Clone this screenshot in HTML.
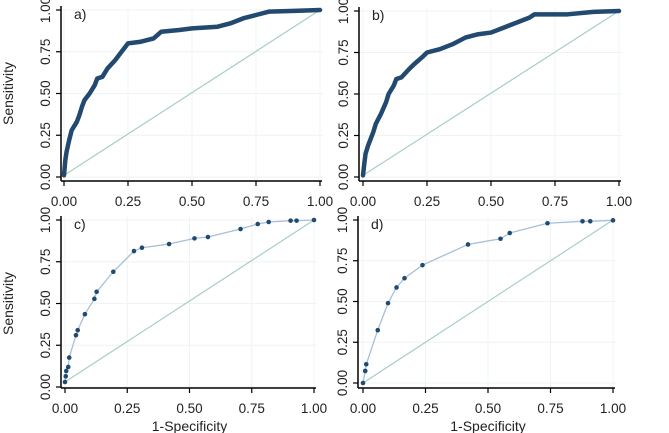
<!DOCTYPE html>
<html><head><meta charset="utf-8"><style>
body{margin:0;background:#fff;}
svg{display:block;font-family:"Liberation Sans",sans-serif;}
</style></head><body>
<svg id="chart" width="669" height="433" viewBox="0 0 669 433"></svg>
<script>
const tickVals = [0, 0.25, 0.5, 0.75, 1];
const tickLabels = ["0.00", "0.25", "0.50", "0.75", "1.00"];
const panelLabels = ["a)", "b)", "c)", "d)"];
const aX = [0,0.005,0.01,0.02,0.03,0.05,0.06,0.07,0.08,0.1,0.12,0.13,0.15,0.17,0.2,0.22,0.25,0.3,0.35,0.38,0.45,0.5,0.6,0.65,0.7,0.75,0.8,0.9,1];
const aY = [0.01,0.1,0.15,0.22,0.28,0.33,0.37,0.42,0.46,0.5,0.55,0.59,0.6,0.65,0.7,0.74,0.8,0.81,0.83,0.87,0.88,0.89,0.9,0.92,0.95,0.97,0.99,0.995,1];
const bX = [0,0.005,0.01,0.02,0.04,0.05,0.07,0.09,0.1,0.12,0.13,0.15,0.18,0.2,0.23,0.25,0.3,0.35,0.4,0.45,0.5,0.55,0.6,0.65,0.67,0.8,0.9,1];
const bY = [0.01,0.08,0.14,0.19,0.27,0.32,0.38,0.45,0.5,0.55,0.59,0.6,0.65,0.68,0.72,0.75,0.77,0.8,0.84,0.86,0.87,0.9,0.93,0.96,0.98,0.98,0.995,1];
const cX = [0,0.003,0.005,0.013,0.017,0.044,0.051,0.08,0.118,0.127,0.194,0.277,0.309,0.418,0.52,0.574,0.705,0.774,0.818,0.906,0.93,1];
const cY = [0.03,0.064,0.096,0.12,0.176,0.31,0.34,0.436,0.528,0.57,0.69,0.814,0.834,0.856,0.89,0.898,0.946,0.976,0.988,0.996,0.996,1];
const dX = [0,0.009,0.013,0.059,0.1,0.134,0.166,0.238,0.42,0.55,0.587,0.738,0.878,0.909,1];
const dY = [0,0.074,0.115,0.324,0.49,0.586,0.643,0.723,0.85,0.885,0.92,0.98,0.992,0.992,0.998];

const NS = "http://www.w3.org/2000/svg";
const svg = document.getElementById('chart');
function mk(tag, attrs, parent){const e=document.createElementNS(NS,tag);for(const k in attrs)e.setAttribute(k,attrs[k]);(parent||svg).appendChild(e);return e;}

const panels = [
 {x0:64,x1:320,y0:177,y1:10,ax:61,ay:181,xs:aX,ys:aY,thick:true,xt:false},
 {x0:363,x1:619,y0:177,y1:11,ax:359,ay:181,xs:bX,ys:bY,thick:true,xt:false},
 {x0:65,x1:314,y0:387,y1:220,ax:61,ay:388,xs:cX,ys:cY,thick:false,xt:true},
 {x0:363,x1:613,y0:383,y1:220,ax:358,ay:388,xs:dX,ys:dY,thick:false,xt:true}
];
panels.forEach((p,i)=>{
  const g = mk('g',{});
  
  
  const sx=v=>p.x0+v*(p.x1-p.x0), sy=v=>p.y0+v*(p.y1-p.y0);
  tickVals.forEach((t,k)=>{
    const gx=mk('line',{x1:sx(t),x2:sx(t),y1:sy(1)-3,y2:p.ay,stroke:'#eef4f6','stroke-width':1},g);
    
    const gy=mk('line',{x1:p.ax,x2:sx(1)+3,y1:sy(t),y2:sy(t),stroke:'#eef4f6','stroke-width':1},g);
    
    mk('line',{x1:sx(t),x2:sx(t),y1:p.ay,y2:p.ay+5,stroke:'#000','stroke-width':1.2},g);
    mk('line',{x1:p.ax-5,x2:p.ax,y1:sy(t),y2:sy(t),stroke:'#000','stroke-width':1.2},g);
    const xl=mk('text',{x:sx(t),y:p.ay+25,'text-anchor':'middle','font-size':13.5,fill:'#222'},g);
    xl.textContent=tickLabels[k];
    
    const yl=mk('text',{x:0,y:0,'text-anchor':'middle','font-size':13.5,fill:'#222',transform:`translate(${p.ax-11},${sy(t)}) rotate(-90)`},g);
    yl.textContent=tickLabels[k];
    
  });
  mk('line',{x1:p.ax,x2:p.ax,y1:sy(1)-4,y2:p.ay,stroke:'#000','stroke-width':1.5},g);
  mk('line',{x1:p.ax,x2:sx(1)+2,y1:p.ay,y2:p.ay,stroke:'#000','stroke-width':1.5},g);
  const diag=mk('line',{x1:sx(0),y1:sy(p.ys[0]),x2:sx(1),y2:sy(1),stroke:'#a8cfc4','stroke-width':1.2},g);
  
  const pts=p.xs.map((x,k)=>sx(x)+','+sy(p.ys[k])).join(' ');
  const curve=mk('polyline',{points:pts,fill:'none',stroke:p.thick?'#22496f':'#a9bfd6','stroke-width':p.thick?4.5:1.3,'stroke-linejoin':'round','stroke-linecap':'round'},g);
  
  if(!p.thick){
    p.xs.forEach((x,k)=>{
      const c=mk('circle',{cx:sx(x),cy:sy(p.ys[k]),r:2.3,fill:'#1f4a72'},g);
      
    });
  }
  const lab=mk('text',{x:p.ax+13,y:sy(1)+9,'font-size':14,fill:'#222'},g);
  lab.textContent=panelLabels[i];
  
  if(p.xt){
    const xt=mk('text',{x:(sx(0)+sx(1))/2,y:p.ay+43,'text-anchor':'middle','font-size':14,fill:'#222'},g);
    xt.textContent='1-Specificity';
    
  }
  if(i%2===0){
    const yt=mk('text',{x:0,y:0,'text-anchor':'middle','font-size':14,fill:'#222',transform:`translate(13,${(sy(0)+sy(1))/2}) rotate(-90)`},g);
    yt.textContent='Sensitivity';
    
  }
});
</script>
</body></html>
